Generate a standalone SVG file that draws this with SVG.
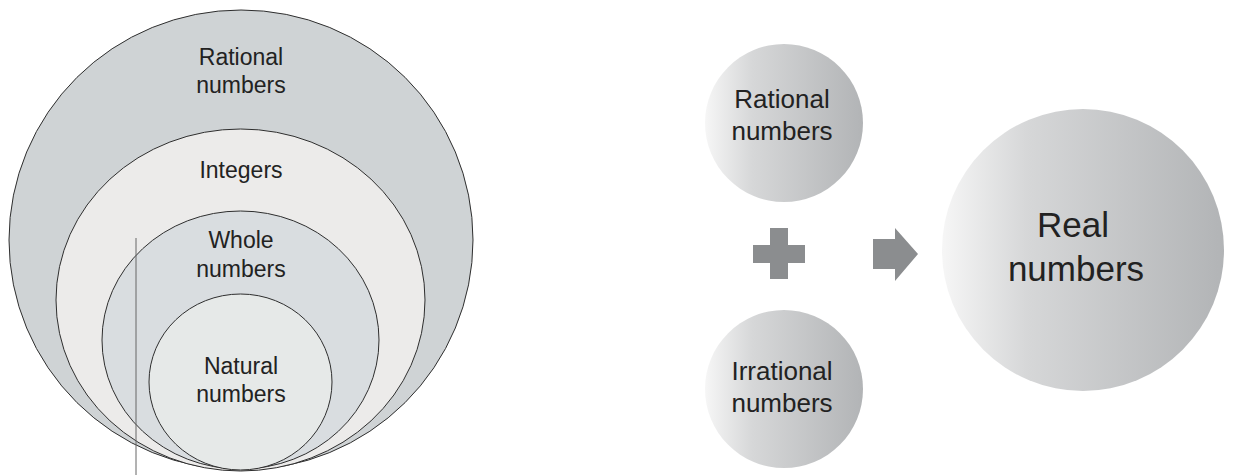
<svg xmlns="http://www.w3.org/2000/svg" width="1236" height="475" viewBox="0 0 1236 475">
<defs>
<linearGradient id="ball" x1="0" y1="0" x2="1" y2="0">
<stop offset="0" stop-color="#f6f6f6"/>
<stop offset="0.3" stop-color="#d6d7d8"/>
<stop offset="1" stop-color="#b2b4b6"/>
</linearGradient>
<style>
.ring{stroke:#2e2e2e;stroke-width:1}
.t{font-family:"Liberation Sans",Arial,sans-serif;fill:#222;text-anchor:middle}
.s{font-size:23px}
.m{font-size:26px}
.l{font-size:35px}
.sym{fill:#8b8d8f}
</style>
</defs>
<rect width="1236" height="475" fill="#ffffff"/>
<g id="rational-set">
<ellipse class="ring" cx="241" cy="240" rx="232" ry="230" fill="#cfd3d5"/>
<text class="t s" x="241" y="65">Rational</text>
<text class="t s" x="241" y="93">numbers</text>
</g>
<g id="integers-set">
<ellipse class="ring" cx="240.5" cy="300" rx="184.5" ry="171" fill="#ecebea"/>
<text class="t s" x="241" y="178">Integers</text>
</g>
<g id="whole-set">
<ellipse class="ring" cx="240.5" cy="340" rx="138.5" ry="129" fill="#d9dde0"/>
<text class="t s" x="241" y="248">Whole</text>
<text class="t s" x="241" y="277">numbers</text>
</g>
<g id="natural-set">
<ellipse class="ring" cx="240.5" cy="382" rx="91.5" ry="88" fill="#e6e9e8"/>
<text class="t s" x="241" y="374">Natural</text>
<text class="t s" x="241" y="402">numbers</text>
</g>
<g id="connectors">
<line x1="136" y1="238" x2="136" y2="475" stroke="#666" stroke-width="1"/>
<path class="sym" d="M770,228 H788 V245 H805 V263 H788 V279 H770 V263 H753 V245 H770 Z"/>
<polygon class="sym" points="873,239 895,239 895,228 918,254 895,281 895,269 873,269"/>
</g>
<g id="rational-node">
<circle cx="784" cy="123" r="79" fill="url(#ball)"/>
<text class="t m" x="782" y="108">Rational</text>
<text class="t m" x="782" y="140">numbers</text>
</g>
<g id="irrational-node">
<circle cx="784" cy="389" r="79" fill="url(#ball)"/>
<text class="t m" x="782" y="380">Irrational</text>
<text class="t m" x="782" y="412">numbers</text>
</g>
<g id="real-node">
<circle cx="1083" cy="250" r="141" fill="url(#ball)"/>
<text class="t l" x="1073" y="237">Real</text>
<text class="t l" x="1076" y="281">numbers</text>
</g>
</svg>
